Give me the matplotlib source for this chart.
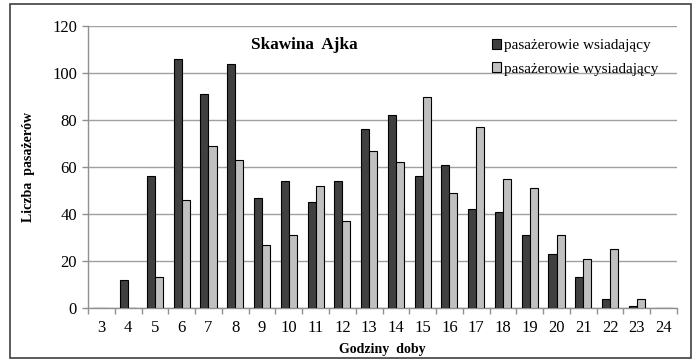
import matplotlib
matplotlib.use("Agg")
import matplotlib.pyplot as plt
from matplotlib.patches import Rectangle
import numpy as np

hours = [str(h) for h in range(3, 25)]
boarding = [0, 12, 56, 106, 91, 104, 47, 54, 45, 54, 76, 82, 56, 61, 42, 41, 31, 23, 13, 4, 1, 0]
alighting = [0, 0, 13, 46, 69, 63, 27, 31, 52, 37, 67, 62, 90, 49, 77, 55, 51, 31, 21, 25, 4, 0]
series_names = ["pasażerowie wsiadający", "pasażerowie wysiadający"]
yticks = [0, 20, 40, 60, 80, 100, 120]

plt.rcParams['font.family'] = ['Liberation Serif', 'DejaVu Serif']

fig = plt.figure(figsize=(6.95, 3.6), dpi=100)
ax = fig.add_axes([88/695, 1-308/360, 589/695, 282/360])

x = np.arange(len(hours))
w = 0.3
ax.bar(x - w/2, boarding, w, color='#404040', edgecolor='black', linewidth=0.8,
       label=series_names[0], zorder=3)
ax.bar(x + w/2, alighting, w, color='#c0c0c0', edgecolor='black', linewidth=0.8,
       label=series_names[1], zorder=3)

ax.set_xlim(-0.5, len(hours) - 0.5)
ax.set_ylim(0, 120)
ax.set_yticks(yticks)
ax.set_yticklabels([str(v) for v in yticks], fontsize=12)
ax.set_xticks(x)
ax.set_xticklabels(hours, fontsize=12)
ax.tick_params(axis='x', length=0, pad=9)
ax.set_xticks(np.arange(-0.5, len(hours)), minor=True)
ax.tick_params(axis='x', which='minor', length=4, color='#909090', width=1)
ax.tick_params(axis='y', length=4, color='#909090', width=1, pad=4)
ax.grid(axis='y', color='#a0a0a0', linewidth=1, zorder=0)
for s in ['top', 'right']:
    ax.spines[s].set_visible(False)
for s in ['left', 'bottom']:
    ax.spines[s].set_color('#909090')
    ax.spines[s].set_linewidth(1)

ax.text(0.368, 0.933, "Skawina  Ajka", transform=ax.transAxes, ha='center', va='center',
        fontsize=12.3, fontweight='bold')
ax.set_ylabel("Liczba  pasażerów", fontsize=10, fontweight='bold', labelpad=12)
ax.set_xlabel("Godziny  doby", fontsize=10, fontweight='bold', labelpad=5)

leg = ax.legend(loc='upper left', bbox_to_anchor=(0.676, 0.975), frameon=False,
                fontsize=11, handlelength=0.6, handleheight=0.6, handletextpad=0.2,
                labelspacing=0.65, borderaxespad=0)

fig.patches.append(Rectangle((10/695, 2/360), 681/695, 354/360, transform=fig.transFigure,
                             fill=False, edgecolor='#404040', linewidth=1.2))

fig.savefig("out.png", dpi=100)
